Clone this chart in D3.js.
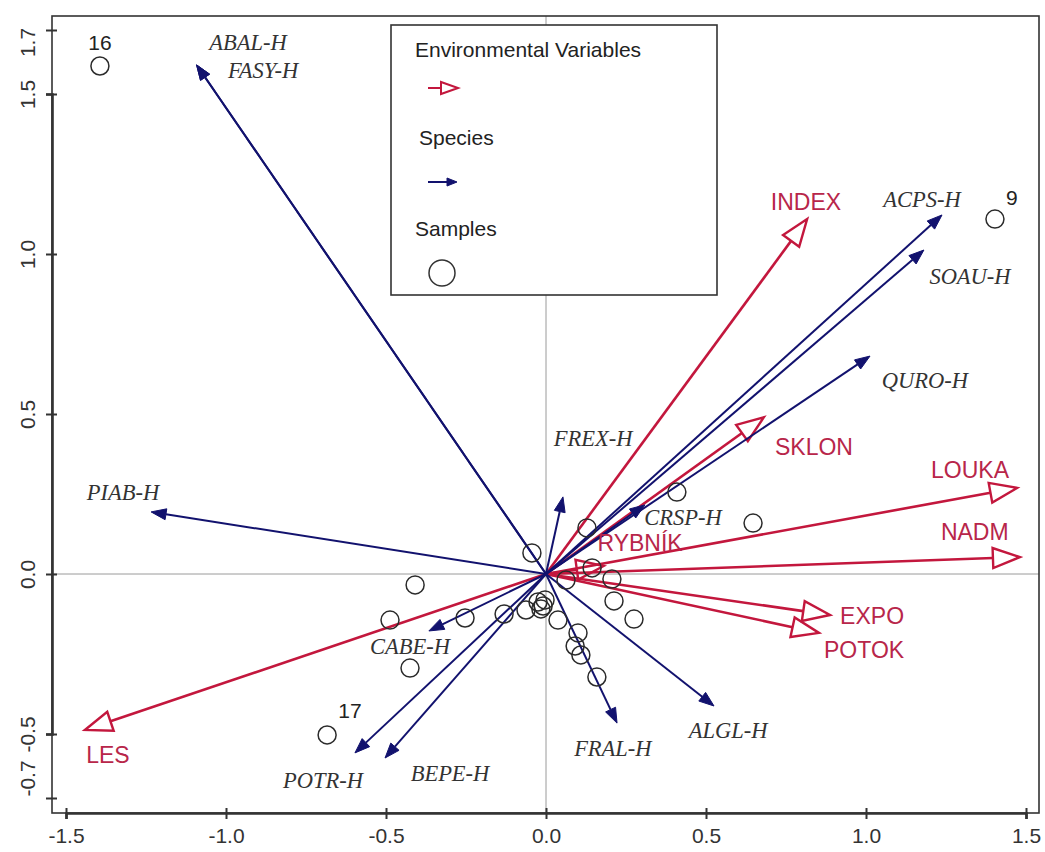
<!DOCTYPE html>
<html>
<head>
<meta charset="utf-8">
<script src="https://cdn.jsdelivr.net/npm/d3@7/dist/d3.min.js"></script>
<style>
    body { margin: 0; background: #fff; }
</style>
</head>
<body>
<div id="wrapper"></div>
<script>
// environmental variables (red arrows)
const envNames = ["INDEX", "SKLON", "LOUKA", "NADM", "RYBNÍK", "EXPO", "POTOK", "LES"]
const envX = [0.816, 0.681, 1.472, 1.481, 0.18, 0.8875, 0.853, -1.441]
const envY = [1.109, 0.49, 0.269, 0.053, 0.025, -0.128, -0.184, -0.4875]
const envLabelX = [0.8125, 0.8375, 1.325, 1.34, 0.294, 1.019, 0.994, -1.369]
const envLabelY = [1.1625, 0.397, 0.325, 0.131, 0.097, -0.131, -0.2375, -0.566]

// species (blue arrows)
const spNames = ["ABAL-H", "FASY-H", "ACPS-H", "SOAU-H", "QURO-H", "FREX-H", "CRSP-H",
    "PIAB-H", "CABE-H", "POTR-H", "BEPE-H", "FRAL-H", "ALGL-H"]
const spX = [-1.092, -1.092, 1.2375, 1.181, 1.0125, 0.053, 0.309, -1.234, -0.366, -0.597, -0.503, 0.222, 0.525]
const spY = [1.591, 1.591, 1.122, 1.0125, 0.681, 0.241, 0.216, 0.194, -0.178, -0.559, -0.575, -0.466, -0.4125]
const spLabelX = [-0.931, -0.884, 1.175, 1.325, 1.184, 0.147, 0.428, -1.322, -0.425, -0.697, -0.3, 0.209, 0.569]
const spLabelY = [1.6625, 1.575, 1.169, 0.931, 0.606, 0.425, 0.178, 0.256, -0.228, -0.644, -0.622, -0.544, -0.4875]

// samples (circles)
const sampleX = [-1.394, 1.403, -0.684, 0.409, 0.647, 0.128, -0.044, 0.144, 0.0625, 0.206, 0.2125, 0.275,
    -0.409, -0.4875, -0.253, -0.425, -0.131, -0.0625, -0.025, -0.003, -0.009, -0.016, 0.0375, 0.1, 0.091, 0.109, 0.159]
const sampleY = [1.5875, 1.109, -0.503, 0.256, 0.159, 0.144, 0.066, 0.019, -0.019, -0.016, -0.084, -0.141,
    -0.034, -0.144, -0.1375, -0.294, -0.125, -0.1125, -0.0875, -0.081, -0.1, -0.109, -0.144, -0.184, -0.225, -0.253, -0.322]
const sampleIds = ["16", "9", "17"]
const sampleLabelX = [-1.394, 1.456, -0.6125]
const sampleLabelY = [1.6625, 1.178, -0.425]

const xTicks = [-1.5, -1.0, -0.5, 0.0, 0.5, 1.0, 1.5]
const yTicks = [-0.7, -0.5, 0.0, 0.5, 1.0, 1.5, 1.7]

const RED = "#c3173d"
const RED_TXT = "#b8264a"
const NAVY = "#12126e"
const SANS = "'Liberation Sans', Arial, sans-serif"

window.addEventListener("load", paint)

function paint() {
    const dims = getDimensions()
    const svg = d3.select("#wrapper").append("svg")
        .attr("width", dims.width).attr("height", dims.height)

    const x = d3.scaleLinear().domain([-1.5, 1.5]).range([66, 1026])
    const y = d3.scaleLinear().domain([-0.5, 1.5]).range([734, 94])

    const m = dims.margin
    const right = dims.width - m.right, bottom = dims.height - m.bottom

    // zero lines
    svg.append("line").attr("x1", m.left).attr("x2", right)
        .attr("y1", y(0)).attr("y2", y(0)).attr("stroke", "#9a9a9a").attr("stroke-width", 1)
    svg.append("line").attr("x1", x(0)).attr("x2", x(0))
        .attr("y1", m.top).attr("y2", bottom).attr("stroke", "#9a9a9a").attr("stroke-width", 1)

    // box
    svg.append("rect").attr("x", m.left).attr("y", m.top)
        .attr("width", right - m.left).attr("height", bottom - m.top)
        .attr("fill", "none").attr("stroke", "#333").attr("stroke-width", 1.6)

    // axes
    const fmt = d => d.toFixed(1)
    const xAxis = svg.append("g").attr("transform", `translate(0,${bottom})`)
        .call(d3.axisBottom(x).tickValues(xTicks).tickFormat(fmt).tickSize(6))
    const yAxis = svg.append("g").attr("transform", `translate(${m.left},0)`)
        .call(d3.axisLeft(y).tickValues(yTicks).tickFormat(fmt).tickSize(6))
    ;[xAxis, yAxis].forEach(a => {
        a.select(".domain").attr("stroke", "#333").attr("stroke-width", 2.6)
        a.selectAll(".tick line").attr("stroke", "#333").attr("stroke-width", 2)
        a.selectAll(".tick text").attr("fill", "#333")
            .style("font-family", SANS).style("font-size", "21px")
    })
    xAxis.selectAll(".tick line").attr("y1", -5).attr("y2", 6)
    xAxis.selectAll(".tick text").attr("y", 0).attr("dy", "1.45em")
    yAxis.selectAll(".tick line").attr("x1", 5).attr("x2", -6)
    // y labels rotated, the two outer ones pulled in
    yAxis.selectAll(".tick text")
        .attr("x", 0).attr("dy", "0.36em")
        .attr("text-anchor", "middle")
        .attr("transform", d => {
            let shift = 0
            if (d === 1.7) shift = 12
            if (d === -0.7) shift = -20
            return `translate(-25,${shift}) rotate(-90)`
        })

    // environmental arrows
    const env = envNames.map((n, i) => ({ name: n, x: envX[i], y: envY[i], lx: envLabelX[i], ly: envLabelY[i] }))
    const envG = svg.append("g")
    env.forEach(d => {
        const a = arrowGeom(x(0), y(0), x(d.x), y(d.y), 27, 10)
        envG.append("line").attr("x1", x(0)).attr("y1", y(0)).attr("x2", a.bx).attr("y2", a.by)
            .attr("stroke", RED).attr("stroke-width", 2.6)
        envG.append("path").attr("d", a.path)
            .attr("fill", "none").attr("stroke", RED).attr("stroke-width", 2.4).attr("stroke-linejoin", "miter")
    })

    // species arrows
    const sp = spNames.map((n, i) => ({ name: n, x: spX[i], y: spY[i], lx: spLabelX[i], ly: spLabelY[i] }))
    const spG = svg.append("g")
    sp.forEach(d => {
        const a = arrowGeom(x(0), y(0), x(d.x), y(d.y), 15, 5.5)
        spG.append("line").attr("x1", x(0)).attr("y1", y(0)).attr("x2", a.bx).attr("y2", a.by)
            .attr("stroke", NAVY).attr("stroke-width", 2)
        spG.append("path").attr("d", a.path).attr("fill", NAVY).attr("stroke", NAVY).attr("stroke-width", 1)
    })

    // samples
    svg.append("g").selectAll("circle")
        .data(sampleX.map((v, i) => [v, sampleY[i]]))
        .join("circle")
        .attr("cx", d => x(d[0])).attr("cy", d => y(d[1])).attr("r", 9)
        .attr("fill", "none").attr("stroke", "#2b2b2b").attr("stroke-width", 1.5)

    // labels
    svg.append("g").selectAll("text").data(env).join("text")
        .attr("x", d => x(d.lx)).attr("y", d => y(d.ly))
        .attr("text-anchor", "middle").attr("dominant-baseline", "central")
        .attr("fill", RED_TXT)
        .style("font-family", SANS).style("font-size", "23px")
        .text(d => d.name)

    svg.append("g").selectAll("text").data(sp).join("text")
        .attr("x", d => x(d.lx)).attr("y", d => y(d.ly))
        .attr("text-anchor", "middle").attr("dominant-baseline", "central")
        .attr("fill", "#333")
        .style("font-family", "'Liberation Serif', 'Times New Roman', serif")
        .style("font-style", "italic").style("font-size", "22.5px")
        .text(d => d.name)

    svg.append("g").selectAll("text").data(sampleIds).join("text")
        .attr("x", (d, i) => x(sampleLabelX[i])).attr("y", (d, i) => y(sampleLabelY[i]))
        .attr("text-anchor", "middle").attr("dominant-baseline", "central")
        .attr("fill", "#222")
        .style("font-family", SANS).style("font-size", "21px")
        .text(d => d)

    svg.call(drawLegend)
}

function arrowGeom(x0, y0, x1, y1, len, half) {
    const dx = x1 - x0, dy = y1 - y0
    const l = Math.hypot(dx, dy)
    const ux = dx / l, uy = dy / l
    const bx = x1 - ux * len, by = y1 - uy * len
    const nx = -uy, ny = ux
    const path = `M${x1},${y1}L${bx + nx * half},${by + ny * half}L${bx - nx * half},${by - ny * half}Z`
    return { bx, by, path }
}

function drawLegend(svg) {
    const g = svg.append("g")
    g.append("rect").attr("x", 391).attr("y", 25).attr("width", 326).attr("height", 270)
        .attr("fill", "#fff").attr("stroke", "#333").attr("stroke-width", 1.6)

    const txt = (t, tx, ty) => g.append("text").attr("x", tx).attr("y", ty)
        .attr("dominant-baseline", "central").attr("fill", "#222")
        .style("font-family", SANS).style("font-size", "21px")
        .text(t)
    txt("Environmental Variables", 415, 49)
    txt("Species", 419, 137)
    txt("Samples", 415, 228)

    const r = arrowGeom(428, 88, 458, 88, 17, 6)
    g.append("line").attr("x1", 428).attr("y1", 88).attr("x2", r.bx).attr("y2", 88)
        .attr("stroke", RED).attr("stroke-width", 2)
    g.append("path").attr("d", r.path).attr("fill", "none").attr("stroke", RED).attr("stroke-width", 2)

    const b = arrowGeom(428, 182, 457, 182, 10, 4)
    g.append("line").attr("x1", 428).attr("y1", 182).attr("x2", b.bx).attr("y2", 182)
        .attr("stroke", NAVY).attr("stroke-width", 2)
    g.append("path").attr("d", b.path).attr("fill", NAVY).attr("stroke", NAVY)

    g.append("circle").attr("cx", 442).attr("cy", 273).attr("r", 13)
        .attr("fill", "none").attr("stroke", "#333").attr("stroke-width", 1.5)
}

function getDimensions() {
    return {
        width: 1045,
        height: 852,
        margin: { top: 16, right: 6, bottom: 39, left: 52 },
    }
}
</script>
</body>
</html>
